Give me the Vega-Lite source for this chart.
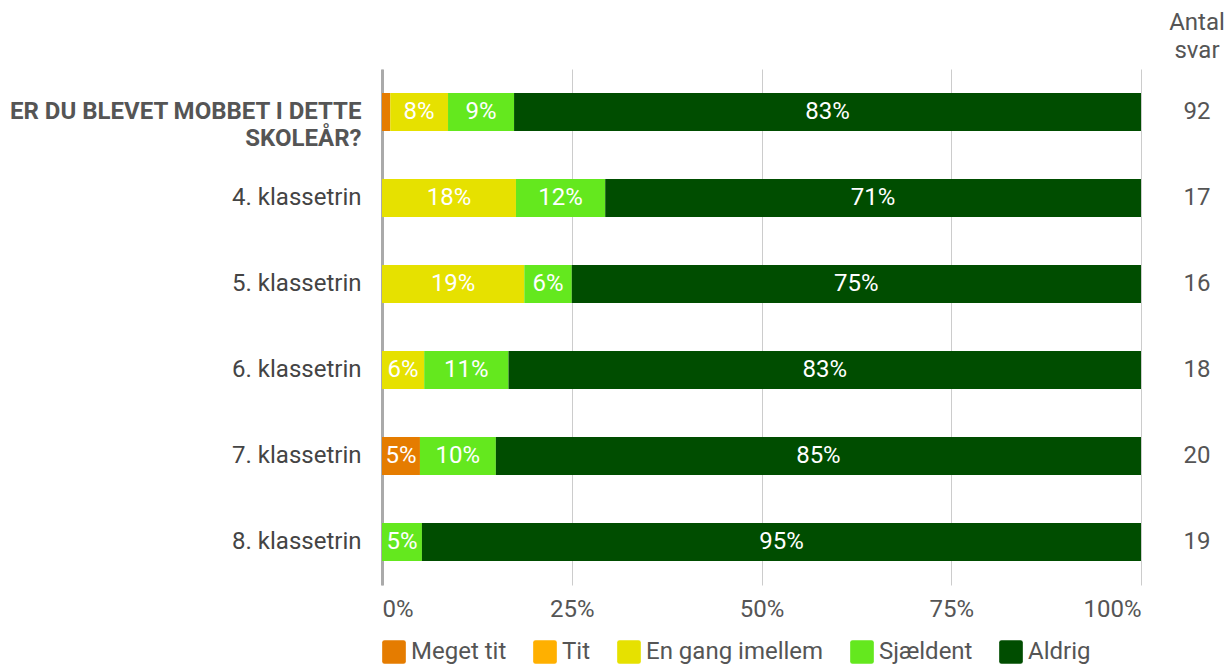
{
  "$schema": "https://vega.github.io/schema/vega-lite/v6.json",
  "background": "white",
  "padding": {"left": 8, "right": 5, "top": 11, "bottom": 0},
  "config": {
    "font": "Roboto",
    "view": {"stroke": null},
    "scale": {"bandPaddingInner": 0.558, "bandPaddingOuter": 0.279}
  },
  "datasets": {
    "rows": [
      {"row": "ER DU BLEVET MOBBET I DETTE SKOLEÅR?", "cat": "Meget tit", "o": 1, "value": 0.0109},
      {"row": "ER DU BLEVET MOBBET I DETTE SKOLEÅR?", "cat": "En gang imellem", "o": 3, "value": 0.0761},
      {"row": "ER DU BLEVET MOBBET I DETTE SKOLEÅR?", "cat": "Sjældent", "o": 4, "value": 0.087},
      {"row": "ER DU BLEVET MOBBET I DETTE SKOLEÅR?", "cat": "Aldrig", "o": 5, "value": 0.826},
      {"row": "4. klassetrin", "cat": "En gang imellem", "o": 3, "value": 0.1765},
      {"row": "4. klassetrin", "cat": "Sjældent", "o": 4, "value": 0.1176},
      {"row": "4. klassetrin", "cat": "Aldrig", "o": 5, "value": 0.7059},
      {"row": "5. klassetrin", "cat": "En gang imellem", "o": 3, "value": 0.1875},
      {"row": "5. klassetrin", "cat": "Sjældent", "o": 4, "value": 0.0625},
      {"row": "5. klassetrin", "cat": "Aldrig", "o": 5, "value": 0.75},
      {"row": "6. klassetrin", "cat": "En gang imellem", "o": 3, "value": 0.0556},
      {"row": "6. klassetrin", "cat": "Sjældent", "o": 4, "value": 0.1111},
      {"row": "6. klassetrin", "cat": "Aldrig", "o": 5, "value": 0.8333},
      {"row": "7. klassetrin", "cat": "Meget tit", "o": 1, "value": 0.05},
      {"row": "7. klassetrin", "cat": "Sjældent", "o": 4, "value": 0.1},
      {"row": "7. klassetrin", "cat": "Aldrig", "o": 5, "value": 0.85},
      {"row": "8. klassetrin", "cat": "Sjældent", "o": 4, "value": 0.0526},
      {"row": "8. klassetrin", "cat": "Aldrig", "o": 5, "value": 0.9474}
    ],
    "counts": [
      {"row": "ER DU BLEVET MOBBET I DETTE SKOLEÅR?", "n": 92},
      {"row": "4. klassetrin", "n": 17},
      {"row": "5. klassetrin", "n": 16},
      {"row": "6. klassetrin", "n": 18},
      {"row": "7. klassetrin", "n": 20},
      {"row": "8. klassetrin", "n": 19}
    ]
  },
  "resolve": {"legend": {"color": "independent"}},
  "spacing": 28,
  "hconcat": [
    {
      "width": 759,
      "height": 516,
      "data": {"name": "rows"},
      "transform": [
        {"stack": "value", "groupby": ["row"], "sort": [{"field": "o", "order": "ascending"}], "as": ["v0", "v1"]},
        {"calculate": "(datum.v0 + datum.v1) / 2", "as": "mid"}
      ],
      "encoding": {
        "y": {
          "field": "row",
          "type": "nominal",
          "sort": ["ER DU BLEVET MOBBET I DETTE SKOLEÅR?", "4. klassetrin", "5. klassetrin", "6. klassetrin", "7. klassetrin", "8. klassetrin"],
          "axis": {
            "title": null,
            "ticks": false,
            "domain": true,
            "domainColor": "#aaaaaa",
            "domainWidth": 3,
            "labelFontSize": 24,
            "labelColor": {"condition": {"test": "datum.value == 'ER DU BLEVET MOBBET I DETTE SKOLEÅR?'", "value": "#555555"}, "value": "#444444"},
            "labelFontWeight": {"condition": {"test": "datum.value == 'ER DU BLEVET MOBBET I DETTE SKOLEÅR?'", "value": "bold"}, "value": "normal"},
            "labelExpr": "datum.value == 'ER DU BLEVET MOBBET I DETTE SKOLEÅR?' ? ['ER DU BLEVET MOBBET I DETTE', 'SKOLEÅR?'] : datum.value",
            "labelLineHeight": 27,
            "labelPadding": 21,
            "labelLimit": 420
          }
        }
      },
      "layer": [
        {
          "mark": {"type": "bar"},
          "encoding": {
            "x": {
              "field": "v0",
              "type": "quantitative",
              "scale": {"domain": [0, 1]},
              "axis": {
                "title": null,
                "format": ".0%",
                "values": [0, 0.25, 0.5, 0.75, 1],
                "domain": false,
                "ticks": false,
                "grid": true,
                "gridColor": "#cccccc",
                "gridWidth": 1,
                "labelFontSize": 24,
                "labelColor": "#555555",
                "labelPadding": 12,
                "labelFlush": true,
                "labelFlushOffset": 0
              }
            },
            "x2": {"field": "v1"},
            "color": {
              "field": "cat",
              "type": "nominal",
              "scale": {
                "domain": ["Meget tit", "Tit", "En gang imellem", "Sjældent", "Aldrig"],
                "range": ["#E57C00", "#FFB000", "#E6E100", "#64E81E", "#004D00"]
              },
              "legend": {
                "title": null,
                "orient": "bottom",
                "direction": "horizontal",
                "offset": 19,
                "symbolType": "M -1 -0.8 Q -1 -1 -0.8 -1 L 0.8 -1 Q 1 -1 1 -0.8 L 1 0.8 Q 1 1 0.8 1 L -0.8 1 Q -1 1 -1 0.8 Z",
                "symbolSize": 560,
                "symbolStrokeWidth": 0,
                "symbolOpacity": 1,
                "labelFontSize": 24,
                "labelColor": "#555555",
                "labelOffset": 5,
                "columnPadding": 26,
                "labelLimit": 300
              }
            }
          }
        },
        {
          "transform": [{"filter": "datum.value >= 0.04"}],
          "mark": {"type": "text", "color": "white", "fontSize": 24, "baseline": "middle", "align": "center"},
          "encoding": {
            "x": {"field": "mid", "type": "quantitative"},
            "text": {"field": "value", "type": "quantitative", "format": ".0%"}
          }
        }
      ]
    },
    {
      "width": 50,
      "height": 516,
      "data": {"name": "counts"},
      "title": {
        "text": ["Antal", "svar"],
        "fontSize": 24,
        "fontWeight": "normal",
        "color": "#555555",
        "anchor": "middle",
        "lineHeight": 28,
        "offset": 6
      },
      "mark": {"type": "text", "fontSize": 24, "color": "#555555", "baseline": "middle"},
      "encoding": {
        "y": {
          "field": "row",
          "type": "nominal",
          "sort": ["ER DU BLEVET MOBBET I DETTE SKOLEÅR?", "4. klassetrin", "5. klassetrin", "6. klassetrin", "7. klassetrin", "8. klassetrin"],
          "axis": null
        },
        "text": {"field": "n", "type": "quantitative"}
      }
    }
  ]
}
